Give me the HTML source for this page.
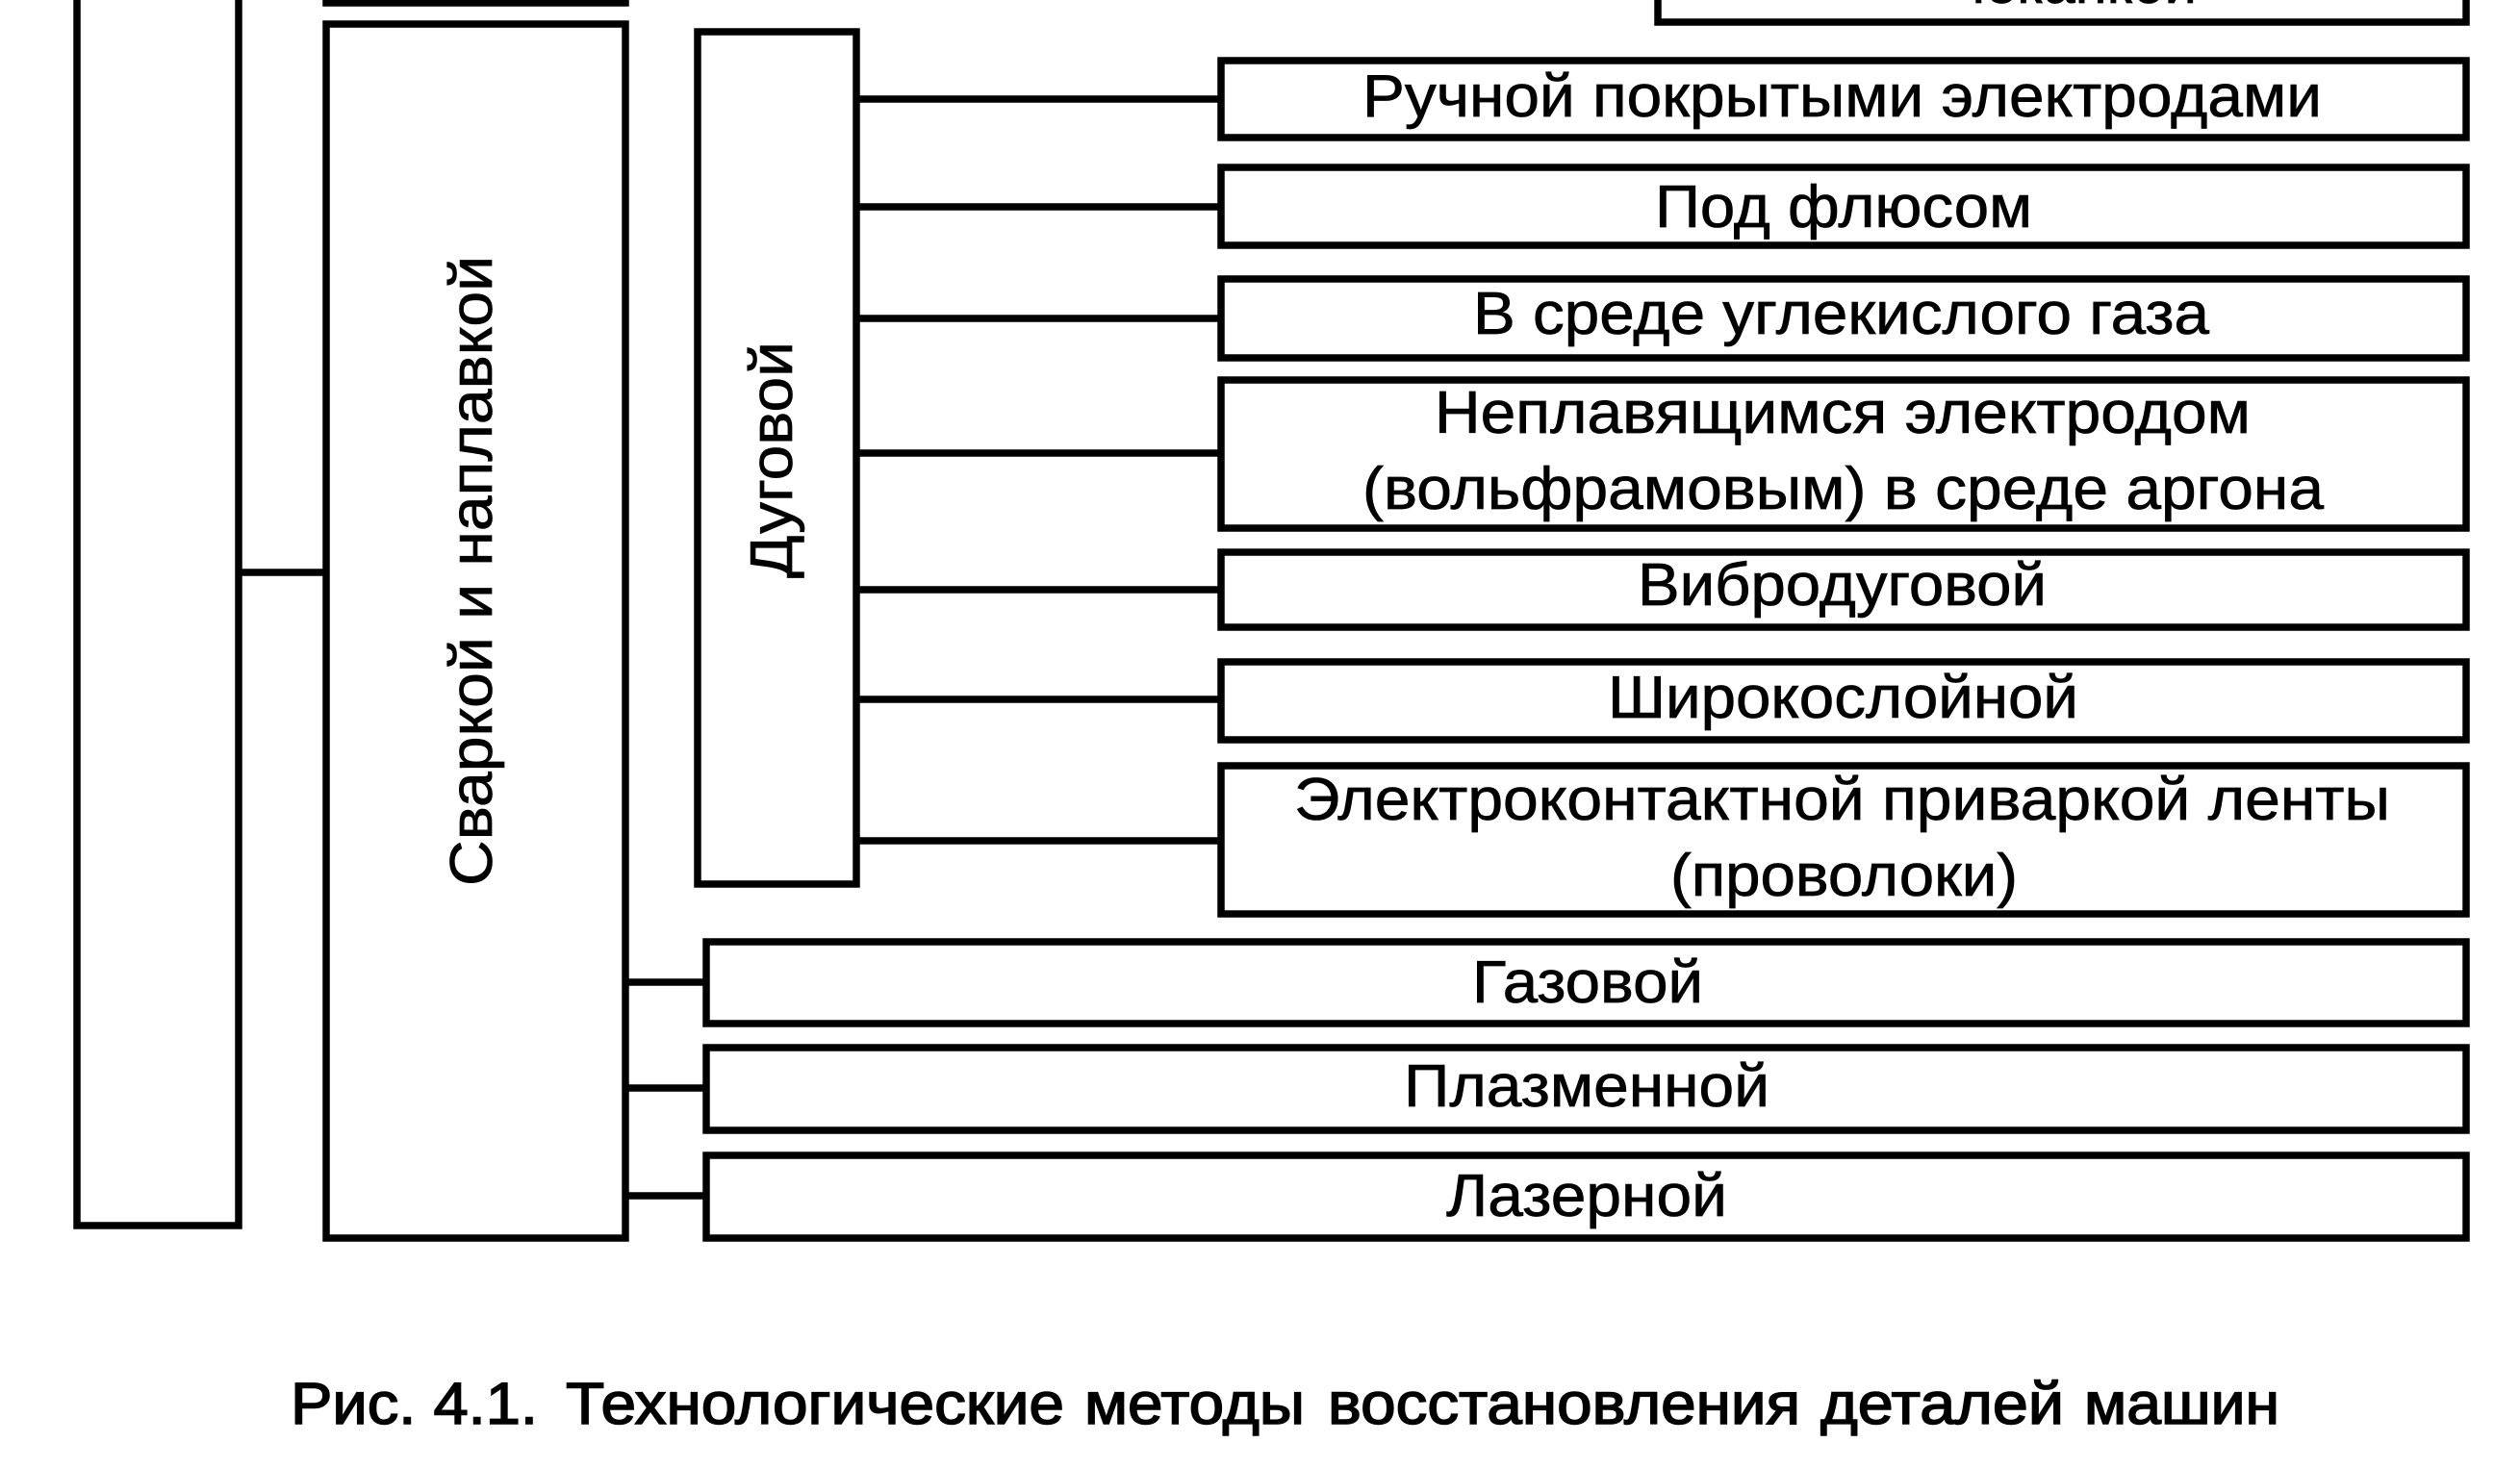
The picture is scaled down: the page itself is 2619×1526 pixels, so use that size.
<!DOCTYPE html>
<html lang="ru">
<head>
<meta charset="utf-8">
<title>Рис. 4.1</title>
<style>
html,body{margin:0;padding:0;background:#fff;width:2619px;height:1526px;overflow:hidden}
svg{display:block}
text{font-family:"Liberation Sans",Arial,sans-serif;fill:#000;stroke:#000;stroke-width:.7px}
rect,line{stroke:#000;stroke-width:7.5px;fill:#fff}
</style>
</head>
<body>
<svg width="2619" height="1526" viewBox="0 0 2619 1526" xmlns="http://www.w3.org/2000/svg">
<!-- connectors -->
<line x1="249" y1="595" x2="340" y2="595"/>
<line x1="890" y1="103" x2="1268" y2="103"/>
<line x1="890" y1="215" x2="1268" y2="215"/>
<line x1="890" y1="331" x2="1268" y2="331"/>
<line x1="890" y1="471" x2="1268" y2="471"/>
<line x1="890" y1="613" x2="1268" y2="613"/>
<line x1="890" y1="727" x2="1268" y2="727"/>
<line x1="890" y1="874" x2="1268" y2="874"/>
<line x1="650" y1="1021" x2="734" y2="1021"/>
<line x1="650" y1="1131" x2="734" y2="1131"/>
<line x1="650" y1="1243" x2="734" y2="1243"/>
<!-- left column -->
<rect x="80" y="-20" width="168" height="1294"/>
<!-- box clipped at top -->
<rect x="339" y="-40" width="311" height="43"/>
<rect x="339" y="25" width="311" height="1262"/>
<rect x="725" y="33" width="165" height="886"/>
<rect x="1723" y="-60" width="840" height="83"/>
<!-- right boxes -->
<rect x="1269" y="63" width="1294" height="80"/>
<rect x="1269" y="174" width="1294" height="81"/>
<rect x="1269" y="290" width="1294" height="82"/>
<rect x="1269" y="395" width="1294" height="154"/>
<rect x="1269" y="574" width="1294" height="78"/>
<rect x="1269" y="688" width="1294" height="81"/>
<rect x="1269" y="796" width="1294" height="154"/>
<rect x="734" y="979" width="1829" height="85"/>
<rect x="734" y="1089" width="1829" height="86"/>
<rect x="734" y="1201" width="1829" height="86"/>
<!-- horizontal labels -->
<g font-size="62">
<text x="2032" y="3" textLength="251" lengthAdjust="spacingAndGlyphs">чеканкой</text>
<text x="1416" y="121" textLength="997" lengthAdjust="spacingAndGlyphs">Ручной покрытыми электродами</text>
<text x="1720" y="236" textLength="392" lengthAdjust="spacingAndGlyphs">Под флюсом</text>
<text x="1531" y="347" textLength="765" lengthAdjust="spacingAndGlyphs">В среде углекислого газа</text>
<text x="1491" y="450" textLength="848" lengthAdjust="spacingAndGlyphs">Неплавящимся электродом</text>
<text x="1416" y="529" textLength="999" lengthAdjust="spacingAndGlyphs">(вольфрамовым) в среде аргона</text>
<text x="1702" y="629" textLength="425" lengthAdjust="spacingAndGlyphs">Вибродуговой</text>
<text x="1671" y="746" textLength="489" lengthAdjust="spacingAndGlyphs">Широкослойной</text>
<text x="1345" y="852" textLength="1139" lengthAdjust="spacingAndGlyphs">Электроконтактной приваркой ленты</text>
<text x="1736" y="931" textLength="361" lengthAdjust="spacingAndGlyphs">(проволоки)</text>
<text x="1530" y="1042" textLength="240" lengthAdjust="spacingAndGlyphs">Газовой</text>
<text x="1459" y="1150" textLength="380" lengthAdjust="spacingAndGlyphs">Плазменной</text>
<text x="1503" y="1264" textLength="292" lengthAdjust="spacingAndGlyphs">Лазерной</text>
</g>
<!-- vertical labels -->
<text transform="translate(511,921) rotate(-90)" font-size="62" textLength="655" lengthAdjust="spacingAndGlyphs">Сваркой и наплавкой</text>
<text transform="translate(823,601) rotate(-90)" font-size="62" textLength="246" lengthAdjust="spacingAndGlyphs">Дуговой</text>
<!-- caption -->
<g font-size="61">
<text x="302" y="1480" textLength="257" lengthAdjust="spacingAndGlyphs" style="stroke-width:1.5px">Рис. 4.1.</text>
<text x="588" y="1480" textLength="518" lengthAdjust="spacingAndGlyphs" style="stroke-width:1.5px">Технологические</text>
<text x="1127" y="1480" textLength="229" lengthAdjust="spacingAndGlyphs" style="stroke-width:1.5px">методы</text>
<text x="1380" y="1480" textLength="491" lengthAdjust="spacingAndGlyphs" style="stroke-width:1.5px">восстановления</text>
<text x="1892" y="1480" textLength="253" lengthAdjust="spacingAndGlyphs" style="stroke-width:1.5px">деталей</text>
<text x="2166" y="1480" textLength="203" lengthAdjust="spacingAndGlyphs" style="stroke-width:1.5px">машин</text>
</g>
</svg>
</body>
</html>
